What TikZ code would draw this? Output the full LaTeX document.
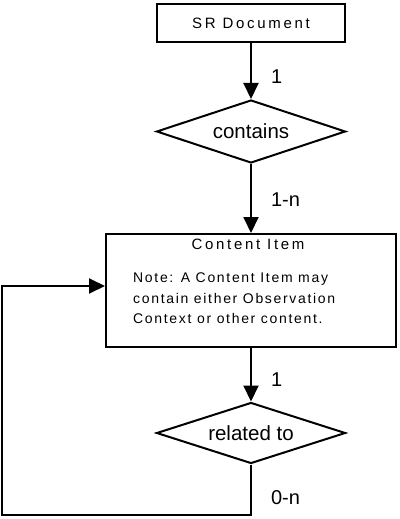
\documentclass[tikz,border=0pt]{standalone}
\usepackage{fontspec}
\setmainfont{Liberation Sans}
\newfontfamily\spacedfont[LetterSpace=18]{Liberation Sans}
\newfontfamily\notefont[LetterSpace=12]{Liberation Sans}
\usetikzlibrary{arrows.meta}
\usetikzlibrary{shapes.geometric}

\tikzset{
entity/.style={draw,line width=2pt,rectangle,inner sep=0pt},
relation/.style={draw,line width=2pt,diamond,aspect=3,inner sep=0pt,font=\fontsize{20.5}{24}\selectfont},
link/.style={line width=2pt,-{Triangle[length=16pt,width=15pt]}},
card/.style={anchor=west,inner sep=0pt,xshift=19pt,font=\fontsize{20}{24}\selectfont},
}

\begin{document}
\begin{tikzpicture}[x=1pt,y=-1pt]
\useasboundingbox (0,0) rectangle (399,519);

\node[entity,minimum width=188pt,minimum height=38pt,font=\spacedfont\fontsize{15}{18}\selectfont] (srdoc) at (251,23) {SR Document};
\node[relation,minimum width=189pt,minimum height=63pt] (contains) at (251,131.5) {contains};

\node[entity,minimum width=290pt,minimum height=113pt] (item) at (251,290.5) {};
\node[anchor=base,inner sep=0pt,font=\spacedfont\fontsize{15}{18}\selectfont] (itemtitle) at ([xshift=-3pt,yshift=-16pt]item.north) {Content Item};
\node[anchor=north west,inner sep=0pt,align=left,font=\notefont\fontsize{14}{20.5}\selectfont] (itemnote) at (133,273)
{Note: A Content Item may\\contain either Observation\\Context or other content.};

\node[relation,minimum width=189pt,minimum height=61pt] (related) at (251,433) {related to};

\coordinate (loopright) at (related.south |- 0,515);
\coordinate (loopleft) at (2,515);
\coordinate (looptop) at (2,286);

\draw[link] (srdoc) -- (contains) node[card,pos=0.6]{1};
\draw[link] (contains) -- (item) node[card,pos=0.52]{1-n};
\draw[link] (item) -- (related) node[card,pos=0.59]{1};
\draw[link] (related.south) -- (loopright) node[card,pos=0.65]{0-n}
  -- (loopleft) -- (looptop) -- (item.west |- looptop);

\end{tikzpicture}
\end{document}
